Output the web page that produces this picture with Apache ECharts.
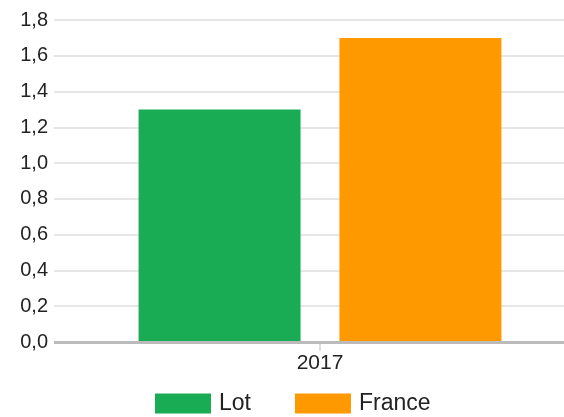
<!DOCTYPE html>
<html>
<head>
<meta charset="utf-8">
<script src="https://cdn.jsdelivr.net/npm/echarts@6/dist/echarts.min.js"></script>
<style>
  html, body { margin: 0; padding: 0; background: #fff; overflow: hidden; }
  #chart { width: 564px; height: 417px; }
</style>
</head>
<body>
<div id="chart"></div>
<script>
// Years on the category axis
const categories = ['2017'];
// Series values
const lotValues = [1.3];
const franceValues = [1.7];
// Y-axis range and step
const yMin = 0;
const yMax = 1.8;
const yStep = 0.2;

const chart = echarts.init(document.getElementById('chart'));
const font = 'Liberation Sans, Arial, sans-serif';

chart.setOption({
  animation: false,
  textStyle: { fontFamily: font },
  // plot area runs past the right edge of the canvas
  grid: { left: 54, width: 532, top: 20, bottom: 75, containLabel: false, outerBoundsMode: 'none' },
  legend: {
    left: 150,
    top: 387,
    itemWidth: 56,
    itemHeight: 20,
    itemGap: 44,
    icon: 'rect',
    textStyle: { fontSize: 23, color: '#222', fontFamily: font, padding: [0, 0, 0, 3] },
    data: ['Lot', 'France']
  },
  xAxis: {
    type: 'category',
    data: categories,
    axisLine: { show: false },
    axisTick: { show: true, alignWithLabel: true, length: 9, lineStyle: { color: '#dddddd', width: 2 } },
    axisLabel: { fontSize: 21, color: '#222', margin: 11, fontFamily: font }
  },
  yAxis: {
    type: 'value',
    min: yMin,
    max: yMax,
    interval: yStep,
    axisLine: { show: false },
    axisTick: { show: false },
    axisLabel: {
      fontSize: 20,
      color: '#222',
      margin: 6,
      fontFamily: font,
      formatter: v => v.toFixed(1).replace('.', ',')
    },
    splitLine: { lineStyle: { color: '#e6e6e6', width: 2 } }
  },
  series: [
    {
      name: 'Lot',
      type: 'bar',
      data: lotValues,
      barWidth: 162,
      barGap: '24%',
      itemStyle: { color: '#1aab55' },
      z: 2
    },
    {
      name: 'France',
      type: 'bar',
      data: franceValues,
      barWidth: 162,
      barGap: '24%',
      itemStyle: { color: '#ff9900' },
      z: 2,
      markLine: {
        silent: true,
        symbol: 'none',
        label: { show: false },
        lineStyle: { color: '#bbbbbb', width: 3, type: 'solid' },
        data: [{ yAxis: 0 }],
        z: 3
      }
    }
  ]
});
</script>
</body>
</html>
